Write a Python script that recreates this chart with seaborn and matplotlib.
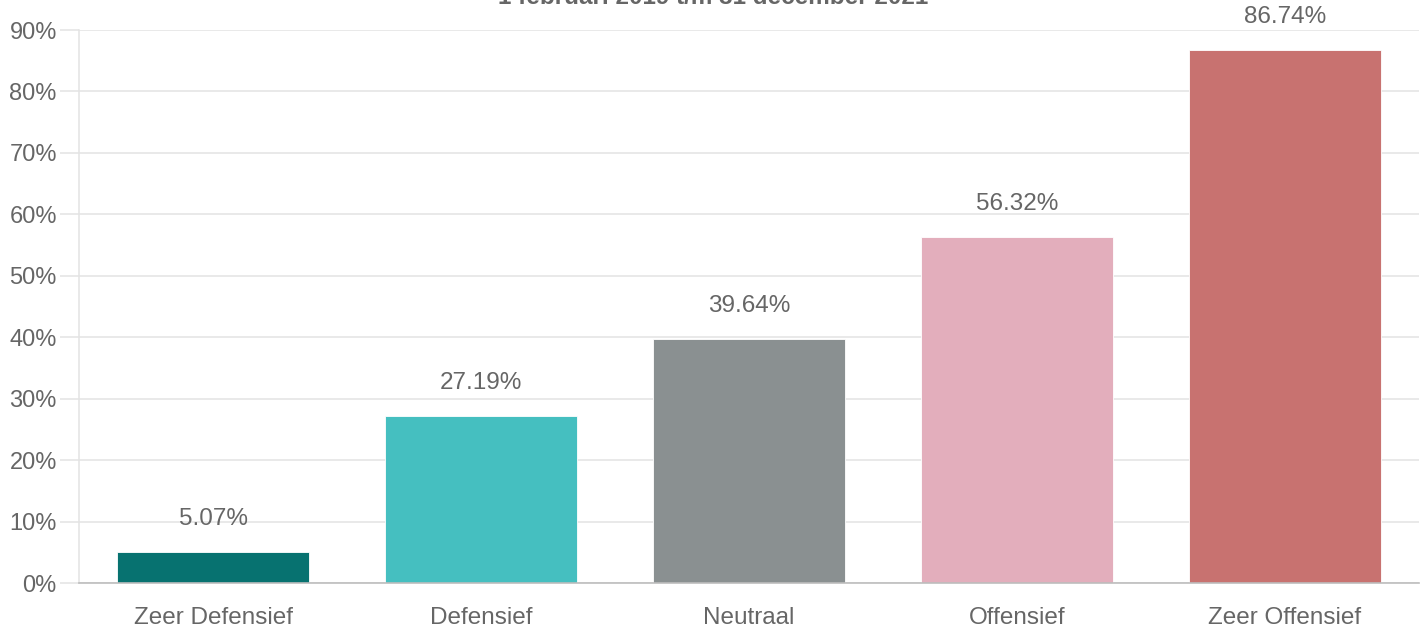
import matplotlib
matplotlib.use("Agg")
import matplotlib.pyplot as plt
import seaborn as sns
import pandas as pd

categories = ["Zeer Defensief", "Defensief", "Neutraal", "Offensief", "Zeer Offensief"]
values = [5.07, 27.19, 39.64, 56.32, 86.74]
colors = ["#077270", "#45BFC0", "#8A9091", "#E3AEBC", "#C87270"]
yticks = [0, 10, 20, 30, 40, 50, 60, 70, 80, 90]
title = "1 februari 2019 t/m 31 december 2021"

sns.set_theme(style="white")
plt.rcParams["font.family"] = ["Liberation Sans", "DejaVu Sans"]

df = pd.DataFrame({"cat": categories, "val": values})

fig = plt.figure(figsize=(14.26, 6.31), dpi=100)
ax = fig.add_axes([79/1426, 1 - 583/631, 1340/1426, 553/631])

sns.barplot(data=df, x="cat", y="val", hue="cat", palette=colors, legend=False,
            width=0.72, ax=ax, saturation=1, edgecolor="white", linewidth=0.6)

ax.set_xlim(-0.5, 4.5)
ax.set_ylim(0, 90)
ax.set_yticks(yticks)
ax.set_yticklabels([f"{t}%" for t in yticks])
ax.set_xlabel("")
ax.set_ylabel("")
ax.yaxis.grid(True, color="#e3e3e3", linewidth=1.1)
ax.set_axisbelow(True)
for s in ["top", "right"]:
    ax.spines[s].set_visible(False)
ax.spines["left"].set_color("#e3e3e3")
ax.spines["left"].set_linewidth(1.1)
ax.spines["bottom"].set_color("#bdbdbd")
ax.spines["bottom"].set_linewidth(1.2)
ax.tick_params(axis="y", length=14, width=1.1, color="#e3e3e3", labelsize=17,
               labelcolor="#666666", pad=2, left=True)
ax.tick_params(axis="x", length=0, labelsize=17.5, labelcolor="#666666", pad=17)

for i, v in enumerate(values):
    ax.annotate(f"{v:.2f}%", (i, v), xytext=(0, 24), textcoords="offset points",
                ha="center", va="center", fontsize=17.5, color="#666666")

fig.text(0.5, 1 - 4/631, title, ha="center", va="baseline", fontsize=17.5,
         fontweight="bold", color="#666666")

fig.savefig("out.png", dpi=100)
